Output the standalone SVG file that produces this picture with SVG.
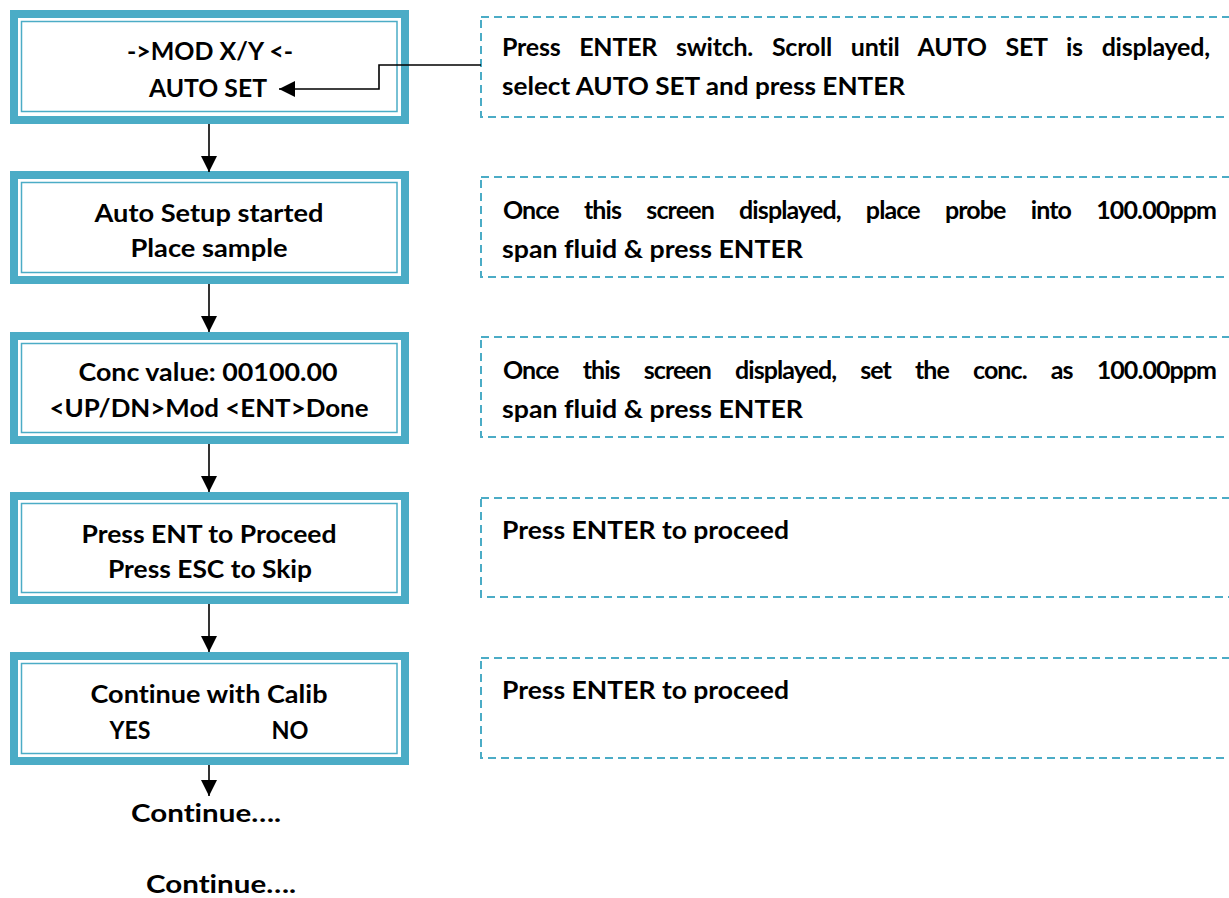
<svg xmlns="http://www.w3.org/2000/svg" width="1229" height="898" viewBox="0 0 1229 898">
<defs>
<style>
.outer{fill:none;stroke:#4BACC6;stroke-width:8}
.inner{fill:none;stroke:#4BACC6;stroke-width:1.5}
.dash{fill:none;stroke:#4BACC6;stroke-width:2;stroke-dasharray:8 5}
.t{font-family:Lato,"Liberation Sans",sans-serif;font-weight:bold;font-size:25px;fill:#000;font-variant-ligatures:none;font-feature-settings:"liga" 0}
.c{text-anchor:middle}
.ln{fill:none;stroke:#000;stroke-width:1.6}
</style>
<marker id="ah" markerUnits="userSpaceOnUse" markerWidth="16" markerHeight="16" viewBox="0 0 14 14" refX="14" refY="7" orient="auto">
<path d="M0,0 L14,7 L0,14 Z" fill="#000"/>
</marker>
</defs>
<rect width="1229" height="898" fill="#fff"/>

<g id="screen1">
<rect class="outer" x="14" y="14" width="391" height="106"/>
<rect class="inner" x="21.5" y="21.5" width="375.5" height="90"/>
<text class="t c" x="210" y="60" textLength="166" lengthAdjust="spacingAndGlyphs">-&gt;MOD X/Y &lt;-</text>
<text class="t c" x="208" y="97" textLength="118" lengthAdjust="spacingAndGlyphs">AUTO SET</text>
</g>
<g id="screen2">
<rect class="outer" x="14" y="175" width="391" height="105"/>
<rect class="inner" x="21.5" y="182.5" width="375.5" height="90"/>
<text class="t c" x="209" y="222" textLength="229" lengthAdjust="spacingAndGlyphs">Auto Setup started</text>
<text class="t c" x="209" y="257" textLength="157" lengthAdjust="spacingAndGlyphs">Place sample</text>
</g>
<g id="screen3">
<rect class="outer" x="14" y="336" width="391" height="104"/>
<rect class="inner" x="21.5" y="343.5" width="375.5" height="89"/>
<text class="t c" x="208" y="381" textLength="259" lengthAdjust="spacingAndGlyphs">Conc value: 00100.00</text>
<text class="t c" x="209" y="417" textLength="319" lengthAdjust="spacingAndGlyphs">&lt;UP/DN&gt;Mod &lt;ENT&gt;Done</text>
</g>
<g id="screen4">
<rect class="outer" x="14" y="496" width="391" height="104"/>
<rect class="inner" x="21.5" y="503.5" width="375.5" height="89"/>
<text class="t c" x="209" y="543" textLength="255" lengthAdjust="spacingAndGlyphs">Press ENT to Proceed</text>
<text class="t c" x="210" y="578" textLength="204" lengthAdjust="spacingAndGlyphs">Press ESC to Skip</text>
</g>
<g id="screen5">
<rect class="outer" x="14" y="656" width="391" height="105"/>
<rect class="inner" x="21.5" y="663.5" width="375.5" height="90"/>
<text class="t c" x="209" y="703" textLength="237" lengthAdjust="spacingAndGlyphs">Continue with Calib</text>
<text class="t c" x="130" y="739" textLength="41" lengthAdjust="spacingAndGlyphs">YES</text>
<text class="t c" x="290" y="739" textLength="37" lengthAdjust="spacingAndGlyphs">NO</text>
</g>
<g id="continue1">
<text class="t c" x="206" y="822" textLength="150" lengthAdjust="spacingAndGlyphs">Continue….</text>
</g>
<g id="continue2">
<text class="t c" x="221" y="893" textLength="150" lengthAdjust="spacingAndGlyphs">Continue….</text>
</g>

<g id="note1">
<rect class="dash" x="481" y="17" width="770" height="100"/>
<text class="t" x="502" y="56" word-spacing="13" textLength="708" lengthAdjust="spacing">Press ENTER switch. Scroll until AUTO SET is displayed,</text>
<text class="t" x="502" y="95" textLength="403" lengthAdjust="spacingAndGlyphs">select AUTO SET and press ENTER</text>
</g>
<g id="note2">
<rect class="dash" x="481" y="177" width="770" height="100"/>
<text class="t" x="503" y="219" word-spacing="20" textLength="714" lengthAdjust="spacing">Once this screen displayed, place probe into 100.00ppm</text>
<text class="t" x="502" y="258" textLength="301" lengthAdjust="spacingAndGlyphs">span fluid &amp; press ENTER</text>
</g>
<g id="note3">
<rect class="dash" x="481" y="337" width="770" height="100"/>
<text class="t" x="503" y="379" word-spacing="19" textLength="714" lengthAdjust="spacing">Once this screen displayed, set the conc. as 100.00ppm</text>
<text class="t" x="502" y="418" textLength="301" lengthAdjust="spacingAndGlyphs">span fluid &amp; press ENTER</text>
</g>
<g id="note4">
<rect class="dash" x="481" y="498" width="770" height="99"/>
<text class="t" x="502" y="539" textLength="287" lengthAdjust="spacingAndGlyphs">Press ENTER to proceed</text>
</g>
<g id="note5">
<rect class="dash" x="481" y="658" width="770" height="100"/>
<text class="t" x="502" y="699" textLength="287" lengthAdjust="spacingAndGlyphs">Press ENTER to proceed</text>
</g>

<g id="connectors">
<line class="ln" x1="209" y1="124" x2="209" y2="172" marker-end="url(#ah)"/>
<line class="ln" x1="209" y1="284" x2="209" y2="332" marker-end="url(#ah)"/>
<line class="ln" x1="209" y1="444" x2="209" y2="492" marker-end="url(#ah)"/>
<line class="ln" x1="209" y1="604" x2="209" y2="652" marker-end="url(#ah)"/>
<line class="ln" x1="209" y1="765" x2="209" y2="796" marker-end="url(#ah)"/>
<polyline class="ln" points="481,65 379,65 379,89 279,89" marker-end="url(#ah)"/>
</g>
</svg>
